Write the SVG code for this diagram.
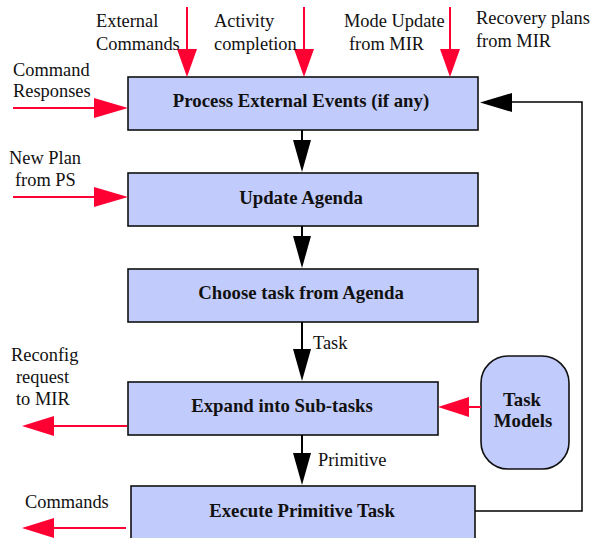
<svg xmlns="http://www.w3.org/2000/svg" width="593" height="538" viewBox="0 0 593 538">
  <style>
    .box { fill: #c2ccfc; stroke: #111; stroke-width: 1.6; }
    .title { font-family: "Liberation Serif", "Times New Roman", serif; font-weight: bold; font-size: 18.8px; fill: #111; text-anchor: middle; }
    .lbl { font-family: "Liberation Serif", "Times New Roman", serif; font-size: 18.4px; fill: #111; }
    .red { stroke: #ff0033; stroke-width: 2; fill: none; }
    .blk { stroke: #000; stroke-width: 2; fill: none; }
    .thin { stroke: #000; stroke-width: 1.5; fill: none; }
    .rhead { fill: #ff0033; stroke: none; }
    .bhead { fill: #000; stroke: none; }
  </style>

  <rect width="593" height="538" fill="#fff"/>

  <!-- process steps -->
  <g id="process-events">
    <rect class="box" x="128" y="77" width="350" height="53"/>
    <text class="title" x="301" y="107">Process External Events (if any)</text>
  </g>
  <g id="update-agenda">
    <rect class="box" x="128" y="173" width="350" height="53"/>
    <text class="title" x="301" y="204">Update Agenda</text>
  </g>
  <g id="choose-task">
    <rect class="box" x="128" y="269" width="350" height="53"/>
    <text class="title" x="301" y="299">Choose task from Agenda</text>
  </g>
  <g id="expand-subtasks">
    <rect class="box" x="128" y="382" width="310" height="53"/>
    <text class="title" x="282" y="412">Expand into Sub-tasks</text>
  </g>
  <g id="execute-primitive">
    <rect class="box" x="131" y="486" width="344" height="60"/>
    <text class="title" x="302" y="517">Execute Primitive Task</text>
  </g>
  <g id="task-models">
    <rect class="box" x="481" y="356" width="88" height="113" rx="27" ry="27"/>
    <text class="title" x="522" y="406">Task</text>
    <text class="title" x="523" y="427">Models</text>
  </g>

  <!-- connectors -->
  <g id="connectors">
    <!-- main flow -->
    <line class="blk" x1="302" y1="130" x2="302" y2="145"/>
    <polygon class="bhead" points="293,140 311,140 302,172"/>
    <line class="blk" x1="302" y1="226" x2="302" y2="241"/>
    <polygon class="bhead" points="293,236 311,236 302,268"/>
    <line class="blk" x1="302" y1="322" x2="302" y2="354"/>
    <polygon class="bhead" points="293,349 311,349 302,381"/>
    <line class="blk" x1="302" y1="435" x2="302" y2="458"/>
    <polygon class="bhead" points="293,453 311,453 302,485"/>

    <!-- loop back to the top -->
    <polyline class="thin" points="475,511 582,511 582,102 508,102"/>
    <polygon class="bhead" points="512,93 512,112 480,102.5"/>

    <!-- incoming events -->
    <line class="red" x1="187" y1="7" x2="187" y2="52"/>
    <polygon class="rhead" points="177,49 197,49 187,77"/>
    <line class="red" x1="304" y1="7" x2="304" y2="52"/>
    <polygon class="rhead" points="294,49 314,49 304,77"/>
    <line class="red" x1="450" y1="7" x2="450" y2="52"/>
    <polygon class="rhead" points="440,49 460,49 450,77"/>
    <line class="red" x1="13" y1="108" x2="98" y2="108"/>
    <polygon class="rhead" points="94,98 94,118 128,108"/>
    <line class="red" x1="13" y1="197" x2="98" y2="197"/>
    <polygon class="rhead" points="94,187 94,207 128,197"/>

    <!-- outgoing requests -->
    <line class="red" x1="127" y1="426" x2="50" y2="426"/>
    <polygon class="rhead" points="54,416 54,436 22,426"/>
    <line class="red" x1="126" y1="528" x2="50" y2="528"/>
    <polygon class="rhead" points="54,518 54,538 22,528"/>

    <!-- task models feed expansion -->
    <line class="red" x1="481" y1="407" x2="465" y2="407"/>
    <polygon class="rhead" points="469,397 469,417 438,407"/>
  </g>

  <!-- labels -->
  <text class="lbl" x="96" y="27">External</text>
  <text class="lbl" x="96" y="50">Commands</text>
  <text class="lbl" x="214" y="27">Activity</text>
  <text class="lbl" x="214" y="50">completion</text>
  <text class="lbl" x="344" y="27">Mode Update</text>
  <text class="lbl" x="349" y="50">from MIR</text>
  <text class="lbl" x="476" y="24">Recovery plans</text>
  <text class="lbl" x="476" y="47">from MIR</text>
  <text class="lbl" x="13" y="76">Command</text>
  <text class="lbl" x="13" y="97">Responses</text>
  <text class="lbl" x="9" y="164">New Plan</text>
  <text class="lbl" x="15" y="186">from PS</text>
  <text class="lbl" x="11" y="361">Reconfig</text>
  <text class="lbl" x="16" y="383">request</text>
  <text class="lbl" x="16" y="405">to MIR</text>
  <text class="lbl" x="25" y="508">Commands</text>
  <text class="lbl" x="313" y="349">Task</text>
  <text class="lbl" x="318" y="466">Primitive</text>
</svg>
